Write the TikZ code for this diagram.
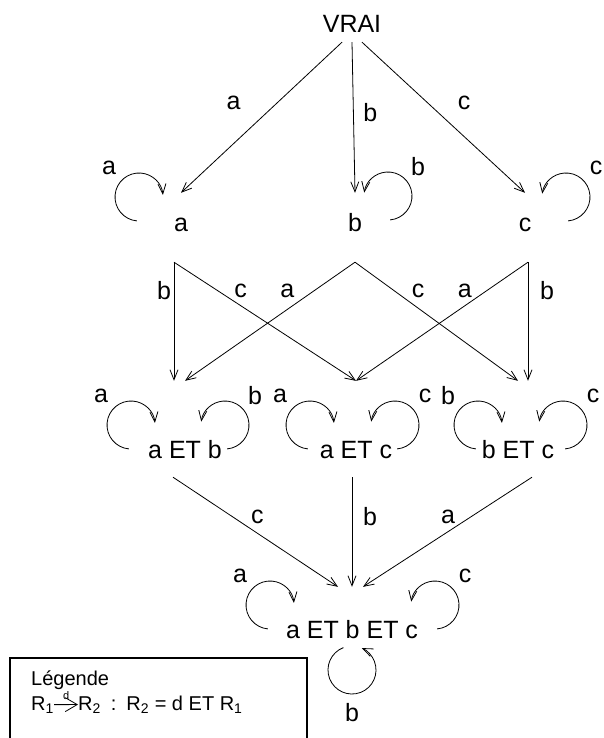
\documentclass[tikz,border=0pt]{standalone}
\usepackage{fontspec}
\setmainfont{Liberation Sans}
\usetikzlibrary{arrows.meta}

\tikzset{
  arr/.style={-{Straight Barb[length=10pt,width=8pt]}, line width=0.8pt},
  legarr/.style={-{Straight Barb[length=12pt,width=14pt]}, line width=0.8pt},
  lbl/.style={inner sep=0pt, font=\fontsize{25}{29}\selectfont},
  state/.style={inner sep=0pt, anchor=base, font=\fontsize{25}{29}\selectfont},
  legtext/.style={inner sep=0pt, anchor=base west, font=\fontsize{20}{24}\selectfont},
}

\begin{document}
\begin{tikzpicture}[x=1pt, y=-1pt]
  \useasboundingbox (0,0) rectangle (604,738);

  % States, level by level
  \node[state, text depth=9pt] (vrai) at (352,33) {VRAI};
  \node[state, text height=38pt, text depth=31pt] (na) at (181,231) {a};
  \node[state, text height=38pt, text depth=31pt] (nb) at (355,231) {b};
  \node[state, text height=38pt, text depth=31pt] (nc) at (525,231) {c};
  \node[state, text height=77pt, text depth=19pt] (nab) at (185,458) {a ET b};
  \node[state, text height=77pt, text depth=19pt] (nac) at (356,458) {a ET c};
  \node[state, text height=77pt, text depth=19pt] (nbc) at (518,458) {b ET c};
  \node[state, text height=51pt] (nabc) at (352,638) {a ET b ET c};

  % VRAI to one letter
  \draw[arr] ([xshift=-10pt]vrai.south) -- (na.north) node[lbl, pos=0.40, xshift=-44pt] {a};
  \draw[arr] (vrai.south) -- (nb.north) node[lbl, pos=0.47, xshift=17pt] {b};
  \draw[arr] ([xshift=10pt]vrai.south) -- (nc.north) node[lbl, pos=0.40, xshift=37pt] {c};

  % one letter to two letters
  \draw[arr] ([xshift=-7pt]na.south) -- ([xshift=-11pt]nab.north) node[lbl, pos=0.24, xshift=-10pt] {b};
  \draw[arr] ([xshift=-7pt]na.south) -- (nac.north) node[lbl, pos=0.24, xshift=23pt] {c};
  \draw[arr] (nb.south) -- (nab.north) node[lbl, pos=0.24, xshift=-27pt] {a};
  \draw[arr] (nb.south) -- (nbc.north) node[lbl, pos=0.24, xshift=24pt] {c};
  \draw[arr] ([xshift=3pt]nc.south) -- (nac.north) node[lbl, pos=0.24, xshift=-22pt] {a};
  \draw[arr] ([xshift=3pt]nc.south) -- ([xshift=10pt]nbc.north) node[lbl, pos=0.24, xshift=19pt] {b};

  % two letters to three letters
  \draw[arr] ([xshift=-12pt]nab.south) -- ([xshift=-14pt]nabc.north) node[lbl, pos=0.36, xshift=25pt] {c};
  \draw[arr] ([xshift=-4pt]nac.south) -- (nabc.north) node[lbl, pos=0.36, xshift=18pt] {b};
  \draw[arr] ([xshift=14pt]nbc.south) -- ([xshift=11pt]nabc.north) node[lbl, pos=0.36, xshift=-23pt] {a};

  % Loops on the left
  \foreach \n/\dx/\dy/\l in {na/-42/-34/a, nab/-54/-33/a, nac/-46/-33/a, nbc/-40/-33/b, nabc/-82/-33/a} {
    \draw[arr] ([shift={(\dx,\dy)}]\n.base) ++(95:24) arc[start angle=95, end angle=355, radius=24];
    \node[lbl] at ([shift={({\dx-30},{\dy-29})}]\n.base) {\l};
  }

  % Loops on the right
  \foreach \n/\dx/\dy/\l in {nb/33/-35/b, nc/41/-34/c, nab/40/-33/b, nac/39/-33/c, nbc/45/-33/c, nabc/83/-33/c} {
    \draw[arr] ([shift={(\dx,\dy)}]\n.base) ++(85:24) arc[start angle=85, end angle=-172, radius=24];
    \node[lbl] at ([shift={({\dx+30},{\dy-29})}]\n.base) {\l};
  }

  % Loop under the last state
  \draw[arr] ([shift={(0,32)}]nabc.base) ++(249:24) arc[start angle=249, end angle=-66, radius=24];
  \node[lbl] at ([shift={(0,75)}]nabc.base) {b};

  % Legend
  \draw[line width=1.5pt] (10,658) rectangle (307,760);
  \node[legtext] (leg) at (31,685) {Légende};
  \node[legtext] (rone) at (31,710) {R\textsubscript{1}};
  \node[legtext] (rtwo) at (78,710) {R\textsubscript{2}\hspace{0.5em}:\hspace{0.5em}R\textsubscript{2} = d ET R\textsubscript{1}};
  \draw[legarr] (rone) -- (rtwo) node[midway, above=5pt, inner sep=0pt, font=\fontsize{11}{12}\selectfont] {d};
\end{tikzpicture}
\end{document}
